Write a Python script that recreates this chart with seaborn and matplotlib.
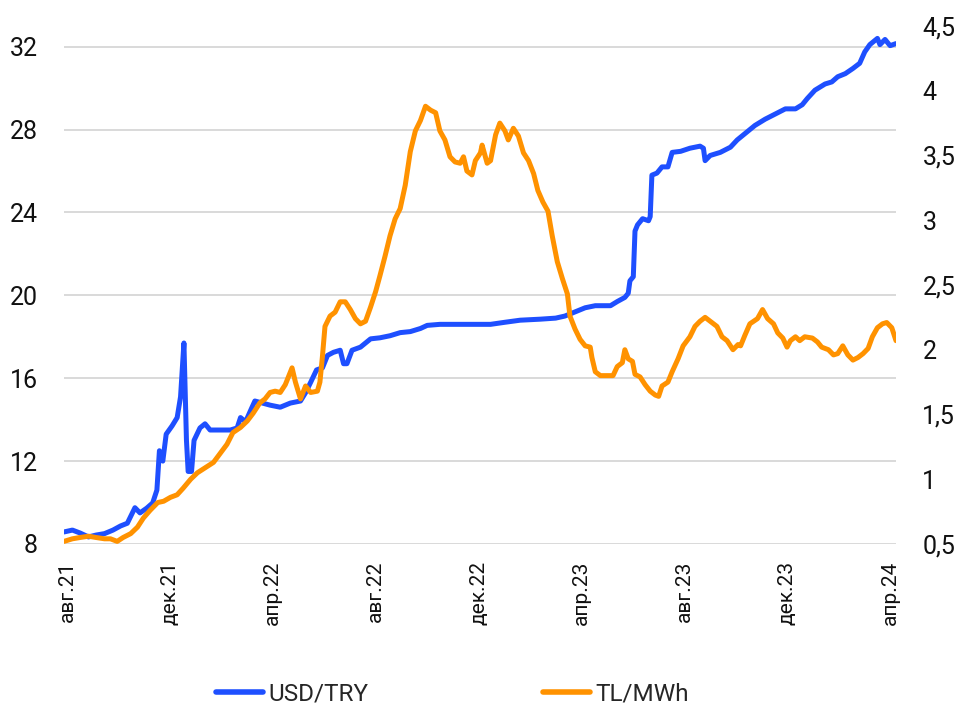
import matplotlib
matplotlib.use("Agg")
import matplotlib.pyplot as plt
import pandas as pd
import seaborn as sns

# USD/TRY (left axis)
usd_dates = [
    "2021-07-28", "2021-08-07", "2021-08-16", "2021-08-26", "2021-09-04", "2021-09-14",
    "2021-09-24", "2021-10-03", "2021-10-11", "2021-10-20", "2021-10-26", "2021-11-03",
    "2021-11-10", "2021-11-15", "2021-11-18", "2021-11-22", "2021-11-26", "2021-12-03",
    "2021-12-09", "2021-12-13", "2021-12-17", "2021-12-20", "2021-12-22", "2021-12-26",
    "2021-12-29", "2022-01-05", "2022-01-11", "2022-01-17", "2022-01-29", "2022-02-10",
    "2022-02-18", "2022-02-22", "2022-02-28", "2022-03-06", "2022-03-11", "2022-03-20",
    "2022-03-29", "2022-04-10", "2022-04-22", "2022-05-04", "2022-05-10", "2022-05-16",
    "2022-05-23", "2022-05-30", "2022-06-05", "2022-06-12", "2022-06-20", "2022-06-24",
    "2022-06-28", "2022-07-04", "2022-07-14", "2022-07-26", "2022-08-06", "2022-08-18",
    "2022-08-30", "2022-09-11", "2022-09-23", "2022-10-01", "2022-10-16", "2022-11-03",
    "2022-11-21", "2022-12-15", "2023-01-01", "2023-01-19", "2023-02-12", "2023-03-02",
    "2023-03-13", "2023-03-25", "2023-04-06", "2023-04-18", "2023-05-06", "2023-05-14",
    "2023-05-23", "2023-05-27", "2023-05-29", "2023-06-02", "2023-06-04", "2023-06-07",
    "2023-06-13", "2023-06-20", "2023-06-22", "2023-06-24", "2023-06-30", "2023-07-06",
    "2023-07-13", "2023-07-18", "2023-07-28", "2023-08-08", "2023-08-20", "2023-08-24",
    "2023-08-26", "2023-09-01", "2023-09-13", "2023-09-25", "2023-10-03", "2023-10-12",
    "2023-10-24", "2023-11-05", "2023-11-17", "2023-11-29", "2023-12-11", "2023-12-19",
    "2023-12-25", "2024-01-03", "2024-01-15", "2024-01-23", "2024-01-30", "2024-02-08",
    "2024-02-17", "2024-02-25", "2024-03-02", "2024-03-08", "2024-03-17", "2024-03-20",
    "2024-03-26", "2024-04-01", "2024-04-08",
]
usd_try = [
    8.58, 8.67, 8.53, 8.34, 8.43, 8.5,
    8.67, 8.87, 9.0, 9.75, 9.5, 9.73,
    9.98, 10.6, 12.5, 12.0, 13.3, 13.7,
    14.1, 15.1, 17.7, 13.0, 11.5, 11.5,
    13.0, 13.6, 13.8, 13.5, 13.5, 13.5,
    13.6, 14.1, 13.9, 14.45, 14.9, 14.8,
    14.7, 14.6, 14.8, 14.9, 15.3, 15.8,
    16.4, 16.5, 17.1, 17.25, 17.35, 16.7,
    16.7, 17.35, 17.5, 17.9, 17.95, 18.05,
    18.2, 18.25, 18.4, 18.55, 18.6, 18.6,
    18.6, 18.6, 18.7, 18.8, 18.85, 18.9,
    19.0, 19.2, 19.4, 19.5, 19.5, 19.7,
    19.9, 20.1, 20.7, 20.9, 23.1, 23.4,
    23.7, 23.6, 23.8, 25.8, 25.9, 26.2,
    26.2, 26.9, 26.95, 27.1, 27.2, 27.1,
    26.5, 26.75, 26.9, 27.15, 27.5, 27.8,
    28.2, 28.5, 28.75, 29.0, 29.0, 29.2,
    29.5, 29.9, 30.2, 30.3, 30.55, 30.7,
    30.95, 31.2, 31.75, 32.1, 32.4, 32.1,
    32.35, 32.05, 32.15,
]

# TL/MWh (right axis)
tl_dates = [
    "2021-07-28", "2021-08-07", "2021-08-16", "2021-08-26", "2021-09-04", "2021-09-14",
    "2021-09-21", "2021-09-29", "2021-10-06", "2021-10-15", "2021-10-23", "2021-10-30",
    "2021-11-07", "2021-11-16", "2021-11-23", "2021-12-01", "2021-12-09", "2021-12-16",
    "2021-12-25", "2022-01-02", "2022-01-14", "2022-01-21", "2022-01-29", "2022-02-06",
    "2022-02-13", "2022-02-22", "2022-03-02", "2022-03-09", "2022-03-17", "2022-03-23",
    "2022-03-29", "2022-04-04", "2022-04-10", "2022-04-16", "2022-04-24", "2022-04-28",
    "2022-05-04", "2022-05-10", "2022-05-16", "2022-05-24", "2022-05-27", "2022-05-30",
    "2022-06-02", "2022-06-08", "2022-06-14", "2022-06-20", "2022-06-26", "2022-07-02",
    "2022-07-08", "2022-07-14", "2022-07-20", "2022-07-26", "2022-08-01", "2022-08-06",
    "2022-08-12", "2022-08-18", "2022-08-24", "2022-08-30", "2022-09-05", "2022-09-11",
    "2022-09-17", "2022-09-23", "2022-09-29", "2022-10-05", "2022-10-11", "2022-10-16",
    "2022-10-22", "2022-10-28", "2022-11-03", "2022-11-09", "2022-11-13", "2022-11-17",
    "2022-11-23", "2022-11-27", "2022-12-03", "2022-12-05", "2022-12-11", "2022-12-15",
    "2022-12-21", "2022-12-26", "2023-01-01", "2023-01-05", "2023-01-11", "2023-01-17",
    "2023-01-23", "2023-01-29", "2023-02-04", "2023-02-09", "2023-02-15", "2023-02-21",
    "2023-02-26", "2023-03-04", "2023-03-10", "2023-03-16", "2023-03-19", "2023-03-25",
    "2023-03-31", "2023-04-06", "2023-04-12", "2023-04-14", "2023-04-18", "2023-04-24",
    "2023-05-02", "2023-05-09", "2023-05-14", "2023-05-20", "2023-05-23", "2023-05-27",
    "2023-06-01", "2023-06-04", "2023-06-10", "2023-06-16", "2023-06-22", "2023-06-28",
    "2023-07-02", "2023-07-06", "2023-07-13", "2023-07-18", "2023-07-25", "2023-07-31",
    "2023-08-08", "2023-08-14", "2023-08-20", "2023-08-26", "2023-09-01", "2023-09-09",
    "2023-09-15", "2023-09-21", "2023-09-28", "2023-10-04", "2023-10-07", "2023-10-12",
    "2023-10-18", "2023-10-27", "2023-11-02", "2023-11-08", "2023-11-15", "2023-11-20",
    "2023-11-26", "2023-12-01", "2023-12-05", "2023-12-11", "2023-12-16", "2023-12-22",
    "2023-12-31", "2024-01-06", "2024-01-11", "2024-01-19", "2024-01-25", "2024-01-30",
    "2024-02-05", "2024-02-11", "2024-02-17", "2024-02-23", "2024-02-29", "2024-03-06",
    "2024-03-11", "2024-03-17", "2024-03-23", "2024-03-28", "2024-04-03", "2024-04-08",
]
tl_mwh = [
    0.52, 0.54, 0.55, 0.56, 0.55, 0.54,
    0.54, 0.52, 0.55, 0.58, 0.63, 0.70,
    0.76, 0.82, 0.83, 0.86, 0.88, 0.93,
    1.0, 1.05, 1.1, 1.13, 1.2, 1.27,
    1.36, 1.4, 1.45, 1.51, 1.59, 1.62,
    1.67, 1.68, 1.67, 1.73, 1.86, 1.75,
    1.62, 1.72, 1.67, 1.68, 1.75, 1.95,
    2.18, 2.26, 2.29, 2.37, 2.37, 2.31,
    2.24, 2.2, 2.22, 2.33, 2.45, 2.57,
    2.72, 2.88, 3.01, 3.09, 3.27, 3.53,
    3.69, 3.77, 3.88, 3.85, 3.83, 3.69,
    3.62, 3.49, 3.45, 3.44, 3.49, 3.38,
    3.35, 3.46, 3.52, 3.58, 3.44, 3.46,
    3.66, 3.75, 3.69, 3.62, 3.71, 3.65,
    3.52, 3.46, 3.36, 3.23, 3.14, 3.07,
    2.88, 2.68, 2.55, 2.43, 2.26, 2.16,
    2.08, 2.03, 2.02, 1.94, 1.83, 1.8,
    1.8, 1.8, 1.87, 1.9, 2.0, 1.93,
    1.91, 1.81, 1.79, 1.73, 1.68, 1.65,
    1.64, 1.72, 1.75, 1.83, 1.93, 2.03,
    2.1, 2.18, 2.22, 2.25, 2.22, 2.18,
    2.1, 2.07, 2.0, 2.04, 2.03, 2.11,
    2.2, 2.24, 2.31, 2.24, 2.2, 2.13,
    2.09, 2.02, 2.07, 2.1, 2.07, 2.1,
    2.09, 2.06, 2.02, 2.0, 1.96, 1.97,
    2.03, 1.96, 1.92, 1.94, 1.97, 2.01,
    2.1, 2.17, 2.2, 2.21, 2.17, 2.07,
]

tick_dates = ["2021-08-01", "2021-12-01", "2022-04-01", "2022-08-01", "2022-12-01",
              "2023-04-01", "2023-08-01", "2023-12-01", "2024-04-01"]
tick_labels = ["авг.21", "дек.21", "апр.22", "авг.22", "дек.22",
               "апр.23", "авг.23", "дек.23", "апр.24"]
left_ticks = [8, 12, 16, 20, 24, 28, 32]
right_ticks = [0.5, 1, 1.5, 2, 2.5, 3, 3.5, 4, 4.5]

blue = "#1E4FFF"
orange = "#FF9200"

sns.set_theme(style="white")
plt.rcParams["font.family"] = ["Roboto", "DejaVu Sans"]

usd = pd.DataFrame({"date": pd.to_datetime(usd_dates), "value": usd_try})
tl = pd.DataFrame({"date": pd.to_datetime(tl_dates), "value": tl_mwh})

fig = plt.figure(figsize=(9.62, 7.06), dpi=100)
ax = fig.add_axes([0.0665, 0.2295, 0.8649, 0.7337])
ax2 = ax.twinx()

sns.lineplot(data=usd, x="date", y="value", ax=ax, color=blue, lw=3.6, label="USD/TRY", legend=False)
sns.lineplot(data=tl, x="date", y="value", ax=ax2, color=orange, lw=3.6, label="TL/MWh", legend=False)

ax.set_xlim(pd.Timestamp("2021-07-28"), pd.Timestamp("2024-04-08"))
ax.set_ylim(8, 33)
ax2.set_ylim(0.5, 4.5)

ax.set_yticks(left_ticks)
ax.set_yticklabels([str(t) for t in left_ticks])
ax2.set_yticks(right_ticks)
ax2.set_yticklabels([("%g" % t).replace(".", ",") for t in right_ticks])
ax.set_xticks(pd.to_datetime(tick_dates))
ax.set_xticklabels(tick_labels, rotation=90, va="top", ha="center")

ax.grid(axis="y", color="#d9d9d9", lw=1.4)
ax.set_axisbelow(True)
ax.set_xlabel("")
ax.set_ylabel("")
ax2.set_ylabel("")
for a in (ax, ax2):
    for s in a.spines.values():
        s.set_visible(False)
    a.tick_params(length=0)
ax.tick_params(axis="y", labelsize=18, pad=19, colors="#111111")
ax2.tick_params(axis="y", labelsize=18, pad=19, colors="#111111")
ax.tick_params(axis="x", labelsize=15, pad=12, colors="#111111")

h1, l1 = ax.get_legend_handles_labels()
h2, l2 = ax2.get_legend_handles_labels()
leg = fig.legend(h1 + h2, l1 + l2, loc="center", bbox_to_anchor=(0.47, 0.017), ncol=2,
                 frameon=False, fontsize=17.5, handlelength=1.95, handletextpad=0.2,
                 columnspacing=7.2)
for line in leg.get_lines():
    line.set_linewidth(4)

fig.savefig("out.png", dpi=100)
